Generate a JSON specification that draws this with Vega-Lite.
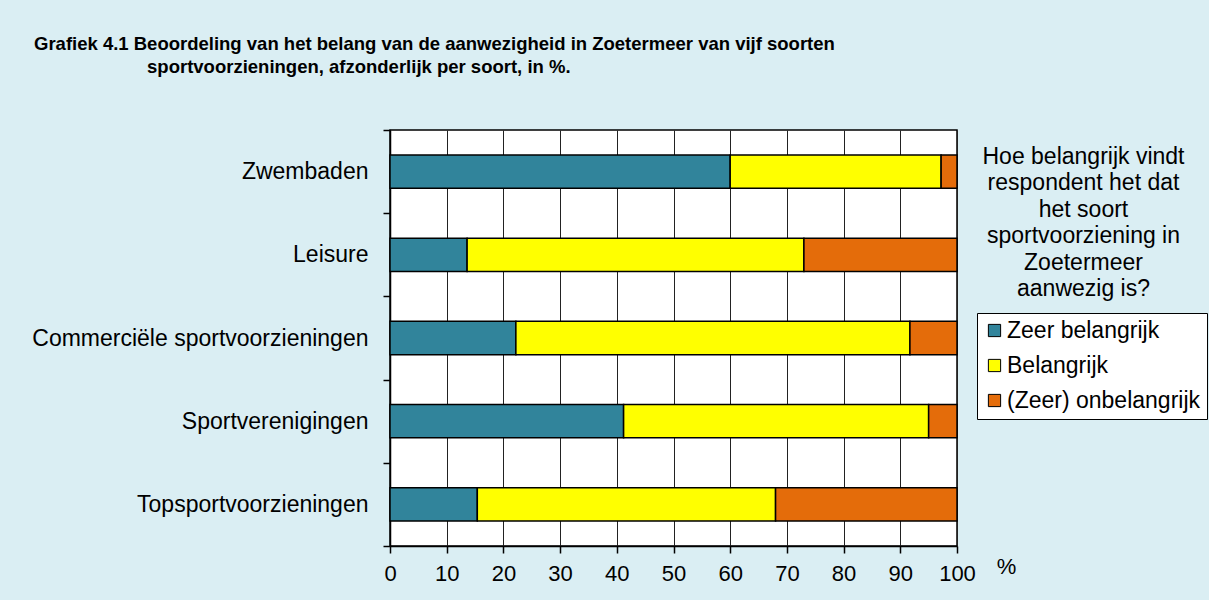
{
  "$schema": "https://vega.github.io/schema/vega-lite/v6.json",
  "width": 567,
  "height": 416,
  "autosize": {"type": "none"},
  "padding": {"left": 390, "top": 130, "right": 252, "bottom": 54},
  "background": "#DAEEF3",
  "title": {
    "text": ["Grafiek 4.1 Beoordeling van het belang van de aanwezigheid in Zoetermeer van vijf soorten", "\u200b\u00a0\u00a0\u00a0\u00a0\u00a0\u00a0\u00a0\u00a0\u00a0\u00a0\u00a0\u00a0\u00a0\u00a0\u00a0\u00a0\u00a0\u00a0\u00a0\u00a0\u00a0\u00a0sportvoorzieningen, afzonderlijk per soort, in %."],
    "anchor": "start",
    "frame": "group",
    "dx": -356,
    "offset": 24,
    "baseline": "bottom",
    "fontSize": 18.5,
    "fontWeight": "bold",
    "lineHeight": 23,
    "color": "black"
  },
  "data": {
    "values": [
      {"voorziening": "Zwembaden", "oordeel": "Zeer belangrijk", "pct": 60.0},
      {"voorziening": "Zwembaden", "oordeel": "Belangrijk", "pct": 37.2},
      {"voorziening": "Zwembaden", "oordeel": "(Zeer) onbelangrijk", "pct": 2.8},
      {"voorziening": "Leisure", "oordeel": "Zeer belangrijk", "pct": 13.6},
      {"voorziening": "Leisure", "oordeel": "Belangrijk", "pct": 59.4},
      {"voorziening": "Leisure", "oordeel": "(Zeer) onbelangrijk", "pct": 27.0},
      {"voorziening": "Commerciële sportvoorzieningen", "oordeel": "Zeer belangrijk", "pct": 22.2},
      {"voorziening": "Commerciële sportvoorzieningen", "oordeel": "Belangrijk", "pct": 69.5},
      {"voorziening": "Commerciële sportvoorzieningen", "oordeel": "(Zeer) onbelangrijk", "pct": 8.3},
      {"voorziening": "Sportverenigingen", "oordeel": "Zeer belangrijk", "pct": 41.2},
      {"voorziening": "Sportverenigingen", "oordeel": "Belangrijk", "pct": 53.8},
      {"voorziening": "Sportverenigingen", "oordeel": "(Zeer) onbelangrijk", "pct": 5.0},
      {"voorziening": "Topsportvoorzieningen", "oordeel": "Zeer belangrijk", "pct": 15.4},
      {"voorziening": "Topsportvoorzieningen", "oordeel": "Belangrijk", "pct": 52.6},
      {"voorziening": "Topsportvoorzieningen", "oordeel": "(Zeer) onbelangrijk", "pct": 32.0}
    ]
  },
  "mark": {"type": "bar", "stroke": "black", "strokeWidth": 1.5, "height": {"band": 0.4}},
  "encoding": {
    "y": {
      "field": "voorziening",
      "type": "nominal",
      "sort": ["Zwembaden", "Leisure", "Commerciële sportvoorzieningen", "Sportverenigingen", "Topsportvoorzieningen"],
      "scale": {"paddingInner": 0, "paddingOuter": 0},
      "axis": {
        "title": ["Hoe belangrijk vindt", "respondent het dat", "het soort", "sportvoorziening in", "Zoetermeer", "aanwezig is?"],
        "titleAngle": 0,
        "titleX": 693,
        "titleY": 15,
        "titleAlign": "center",
        "titleBaseline": "top",
        "titleFontSize": 23,
        "titleFontWeight": "normal",
        "titleLineHeight": 26.5,
        "titleColor": "black",
        "tickBand": "extent",
        "tickSize": 7,
        "tickColor": "black",
        "tickWidth": 1.5,
        "domainColor": "black",
        "domainWidth": 1.5,
        "labelFontSize": 23,
        "labelPadding": 15,
        "labelColor": "black",
        "labelLimit": 500,
        "grid": false
      }
    },
    "x": {
      "field": "pct",
      "type": "quantitative",
      "stack": "zero",
      "scale": {"domain": [0, 100], "nice": false},
      "axis": {
        "values": [0, 10, 20, 30, 40, 50, 60, 70, 80, 90, 100],
        "title": "%",
        "titleX": 616,
        "titleY": 20,
        "titleAlign": "center",
        "titleBaseline": "middle",
        "titleFontSize": 22,
        "titleFontWeight": "normal",
        "titleColor": "black",
        "tickSize": 7,
        "tickColor": "black",
        "tickWidth": 1.5,
        "domainColor": "black",
        "domainWidth": 1.5,
        "labelFontSize": 22,
        "labelPadding": 10,
        "labelColor": "black",
        "labelFlush": false,
        "labelOverlap": false,
        "grid": true,
        "gridColor": "#222222",
        "gridWidth": 1
      }
    },
    "color": {
      "field": "oordeel",
      "type": "nominal",
      "scale": {
        "domain": ["Zeer belangrijk", "Belangrijk", "(Zeer) onbelangrijk"],
        "range": ["#31849B", "#FFFF00", "#E46C0A"]
      },
      "legend": {
        "title": null,
        "orient": "none",
        "legendX": 587,
        "legendY": 183,
        "fillColor": "white",
        "strokeColor": "black",
        "padding": 6,
        "symbolType": "square",
        "symbolSize": 150,
        "symbolStrokeColor": "black",
        "symbolStrokeWidth": 1,
        "labelFontSize": 23,
        "labelOffset": 1,
        "labelColor": "black",
        "labelLimit": 400,
        "rowPadding": 11
      }
    },
    "order": {"field": "oordeel", "sort": "descending"}
  },
  "config": {
    "font": "Liberation Sans",
    "view": {"fill": "white", "stroke": "black", "strokeWidth": 1.5}
  }
}
